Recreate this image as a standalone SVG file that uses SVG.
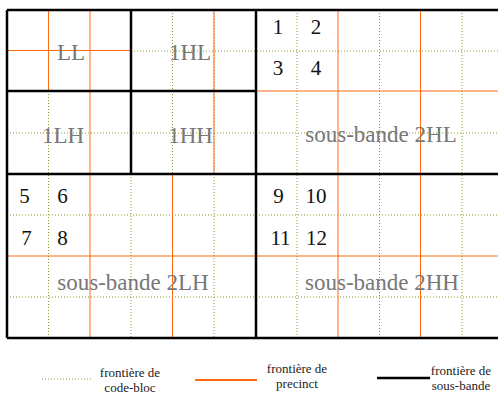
<svg xmlns="http://www.w3.org/2000/svg" width="498" height="395" viewBox="0 0 498 395">
<style>
.cb{stroke:#8a9b2a;stroke-width:1;stroke-dasharray:1 2;fill:none}
.pr{stroke:#ff6a10;stroke-width:1;fill:none}
.sb{stroke:#000;stroke-width:2.5;fill:none}
.lbl{font-family:"Liberation Serif","Times New Roman",serif;font-size:23px;fill:#777;text-anchor:middle}
.num{font-family:"Liberation Serif","Times New Roman",serif;font-size:21px;fill:#111;text-anchor:middle}
.leg{font-family:"Liberation Serif","Times New Roman",serif;font-size:13px;fill:#222;text-anchor:middle}
</style>
<rect width="498" height="395" fill="#fff"/>
<g id="connectors">
  <!-- code-block boundaries (dotted) -->
  <path class="cb" d="M131,51H498 M7,133H498 M7,215H498 M7,297H498
    M48.5,91V338 M131,174V338 M172.5,10V174 M214,174V338
    M297,10V338 M379.5,10V338 M462,10V338 M214,10V174"/>
  <!-- precinct boundaries (orange) -->
  <path class="pr" d="M7,50.5H131 M48.5,10V91 M90,10V338 M214,10V174 M172.5,174V338
    M256,91H498 M7,256H498 M338,10V338 M420.5,10V338"/>
  <!-- sub-band boundaries (black) -->
  <path class="sb" d="M7,10H498 M7,338H498 M7,10V338 M131,10V174 M7,91H256 M256,10V338 M7,174H498"/>
</g>
<g id="LL"><text class="lbl" x="71" y="59.5">LL</text></g>
<g id="HL1"><text class="lbl" x="190" y="60">1HL</text></g>
<g id="LH1"><text class="lbl" x="63" y="143">1LH</text></g>
<g id="HH1"><text class="lbl" x="190.5" y="143">1HH</text></g>
<g id="HL2">
  <text class="lbl" x="381" y="142">sous-bande 2HL</text>
  <text class="num" x="278" y="34">1</text>
  <text class="num" x="316" y="34">2</text>
  <text class="num" x="278" y="75">3</text>
  <text class="num" x="316" y="75">4</text>
</g>
<g id="LH2">
  <text class="lbl" x="133" y="290">sous-bande 2LH</text>
  <text class="num" x="24.5" y="203">5</text>
  <text class="num" x="62.5" y="203">6</text>
  <text class="num" x="26.5" y="245">7</text>
  <text class="num" x="62.5" y="245">8</text>
</g>
<g id="HH2">
  <text class="lbl" x="382" y="290">sous-bande 2HH</text>
  <text class="num" x="278.5" y="203">9</text>
  <text class="num" x="316" y="203">10</text>
  <text class="num" x="280.5" y="245">11</text>
  <text class="num" x="316.5" y="245">12</text>
</g>
<g id="legend">
  <path class="cb" d="M42,379H93"/>
  <text class="leg" x="130" y="377">frontière de</text>
  <text class="leg" x="130" y="392">code-bloc</text>
  <path stroke="#ff6a10" stroke-width="2" d="M195,380H257"/>
  <text class="leg" x="297" y="373">frontière de</text>
  <text class="leg" x="297" y="388">precinct</text>
  <path stroke="#000" stroke-width="2.5" d="M377,378H430"/>
  <text class="leg" x="461" y="375">frontière de</text>
  <text class="leg" x="461" y="390">sous-bande</text>
</g>
</svg>
